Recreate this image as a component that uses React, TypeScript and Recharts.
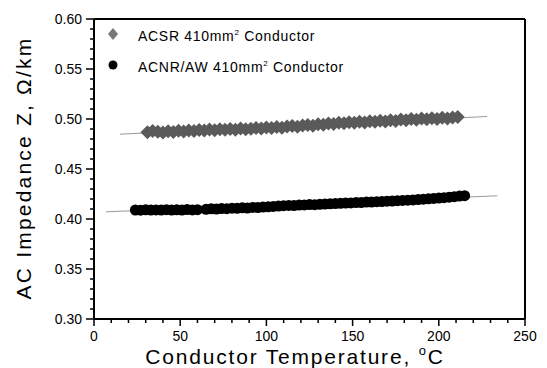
import React from "react"
import { ScatterChart, Scatter, XAxis, YAxis, ReferenceLine } from "recharts"

// ACSR 410mm2 conductor readings
const acsrTemp = [
  31, 34, 37, 40, 43, 46, 49, 52, 55, 58, 61, 64, 67, 70, 73, 76, 79, 82, 85, 88, 91, 94, 97, 100, 103,
  106, 109, 112, 115, 118, 121, 124, 127, 130, 133, 136, 139, 142, 145, 148, 151, 154, 157, 160, 163,
  166, 169, 172, 175, 178, 181, 184, 187, 190, 193, 196, 199, 202, 205, 208, 211,
]
const acsrZ = [
  0.4868, 0.488, 0.4872, 0.4865, 0.4878, 0.487, 0.4883, 0.4876, 0.4885, 0.4879, 0.489, 0.4884, 0.4895,
  0.4888, 0.4898, 0.4893, 0.49, 0.4893, 0.4905, 0.4898, 0.4902, 0.491, 0.4904, 0.4915, 0.4909, 0.492,
  0.4913, 0.4925, 0.493, 0.4922, 0.4935, 0.494, 0.4933, 0.4948, 0.4942, 0.4955, 0.495, 0.4962, 0.4958,
  0.4968, 0.4962, 0.4972, 0.4966, 0.4978, 0.4972, 0.4983, 0.4976, 0.4988, 0.4981, 0.4995, 0.4987, 0.5,
  0.4993, 0.5005, 0.4998, 0.5008, 0.5, 0.5012, 0.5004, 0.5015, 0.502,
]

// ACNR/AW 410mm2 conductor readings
const acnrTemp = [
  24, 27, 30, 33, 36, 39, 42, 45, 48, 51, 54, 57, 60, 65, 68, 71, 74, 77, 80, 83, 86, 89, 92, 95, 98,
  101, 104, 107, 110, 113, 116, 119, 122, 125, 128, 131, 134, 137, 140, 143, 146, 149, 152, 155, 158,
  161, 164, 167, 170, 173, 176, 179, 182, 185, 188, 191, 194, 197, 200, 203, 206, 209, 212, 215,
]
const acnrZ = [
  0.409, 0.4088, 0.4092, 0.4089, 0.4091, 0.409, 0.4093, 0.4089, 0.4092, 0.409, 0.4094, 0.4091, 0.4093,
  0.4097, 0.4102, 0.41, 0.4105, 0.4103, 0.4108, 0.4107, 0.4112, 0.411, 0.4116, 0.4114, 0.4119, 0.4122,
  0.4126, 0.4129, 0.4133, 0.4136, 0.4135, 0.4139, 0.4141, 0.4144, 0.4143, 0.4147, 0.4149, 0.4152,
  0.4154, 0.4157, 0.4159, 0.4161, 0.4164, 0.4165, 0.4169, 0.417, 0.4173, 0.4174, 0.4178, 0.418,
  0.4183, 0.4186, 0.4188, 0.4191, 0.4194, 0.4198, 0.4202, 0.4206, 0.421, 0.4213, 0.4218, 0.4223,
  0.4229, 0.4233,
]

// linear fit lines
const acsrFitTemp = [15, 228]
const acsrFitZ = [0.4848, 0.5025]
const acnrFitTemp = [7, 234]
const acnrFitZ = [0.4072, 0.4232]

const xTicks = [0, 50, 100, 150, 200, 250]
const yTicks = ["0.30", "0.35", "0.40", "0.45", "0.50", "0.55", "0.60"]
const xMinor = [10, 20, 30, 40, 60, 70, 80, 90, 110, 120, 130, 140, 160, 170, 180, 190, 210, 220, 230, 240]
const yMinor = [
  0.31, 0.32, 0.33, 0.34, 0.36, 0.37, 0.38, 0.39, 0.41, 0.42, 0.43, 0.44, 0.46, 0.47, 0.48, 0.49, 0.51,
  0.52, 0.53, 0.54, 0.56, 0.57, 0.58, 0.59,
]

const zip = (xs: number[], ys: number[]) => xs.map((x, i) => ({ t: x, z: ys[i] }))
const acsrData = zip(acsrTemp, acsrZ)
const acnrData = zip(acnrTemp, acnrZ)
const acsrFit = zip(acsrFitTemp, acsrFitZ)
const acnrFit = zip(acnrFitTemp, acnrFitZ)

const FONT = "'Liberation Sans', Arial, sans-serif"
const xAll = [...xTicks, ...xMinor].sort((a, b) => a - b)
const yAll = [...yTicks.map(Number), ...yMinor].sort((a, b) => a - b)

const XTick = (props: any) => {
  const { x, y, payload } = props
  const major = xTicks.includes(payload.value)
  return (
    <g>
      <line x1={x} x2={x} y1={y} y2={y + (major ? 7 : 4)} stroke="#000" strokeWidth={1.5} />
      {major && (
        <text x={x} y={y + 22} textAnchor="middle" fontSize={14} fontFamily={FONT} fill="#000">
          {payload.value}
        </text>
      )}
    </g>
  )
}

const YTick = (props: any) => {
  const { x, y, payload } = props
  const label = yTicks.find((s) => Math.abs(Number(s) - payload.value) < 1e-6)
  return (
    <g>
      <line x1={x - (label ? 8 : 4)} x2={x} y1={y} y2={y} stroke="#000" strokeWidth={1.5} />
      {label && (
        <text x={x - 12} y={y + 5} textAnchor="end" fontSize={14} fontFamily={FONT} fill="#000">
          {label}
        </text>
      )}
    </g>
  )
}

const Diamond = (props: any) => {
  const { cx, cy } = props
  return <polygon points={`${cx - 7},${cy} ${cx},${cy - 7} ${cx + 7},${cy} ${cx},${cy + 7}`} fill="#5a5a5a" />
}

const Dot = (props: any) => {
  const { cx, cy } = props
  return <circle cx={cx} cy={cy} r={5.5} fill="#000" />
}

const NoShape = () => <g />

const LegendBox = () => (
  <div
    style={{
      position: "absolute",
      left: 106,
      top: 19,
      fontFamily: FONT,
      fontSize: 14,
      letterSpacing: 0.7,
      color: "#000",
      lineHeight: "28px",
    }}
  >
    <div style={{ display: "flex", alignItems: "center" }}>
      <svg width={14} height={14} style={{ marginRight: 18 }}>
        <polygon points="7,1 12,7 7,13 2,7" fill="#777" />
      </svg>
      <span>
        ACSR 410mm<sup style={{ fontSize: 8 }}>2</sup> Conductor
      </span>
    </div>
    <div style={{ display: "flex", alignItems: "center" }}>
      <svg width={14} height={14} style={{ marginRight: 18 }}>
        <circle cx={7} cy={7} r={4.5} fill="#000" />
      </svg>
      <span>
        ACNR/AW 410mm<sup style={{ fontSize: 8 }}>2</sup> Conductor
      </span>
    </div>
  </div>
)

export default function App() {
  return (
    <div style={{ position: "absolute", left: 0, top: 0, width: 547, height: 368, background: "#fff" }}>
      <ScatterChart width={547} height={368} margin={{ top: 19, right: 22, bottom: 0, left: 0 }}>
        <XAxis
          type="number"
          dataKey="t"
          domain={[0, 250]}
          ticks={xAll}
          interval={0}
          allowDataOverflow
          height={49}
          tickSize={0}
          tickMargin={0}
          tick={<XTick />}
          axisLine={{ stroke: "#000", strokeWidth: 2 }}
          label={() => (
            <text
              x={295}
              y={364}
              textAnchor="middle"
              fontSize={21}
              fontFamily={FONT}
              letterSpacing={1.8}
              fill="#000"
            >
              Conductor Temperature,{" "}
              <tspan fontSize={13} dy={-9}>
                o
              </tspan>
              <tspan dy={9}>C</tspan>
            </text>
          )}
        />
        <YAxis
          type="number"
          dataKey="z"
          domain={[0.3, 0.6]}
          ticks={yAll}
          interval={0}
          allowDataOverflow
          width={94}
          tickSize={0}
          tickMargin={0}
          tick={<YTick />}
          axisLine={{ stroke: "#000", strokeWidth: 2 }}
          label={() => (
            <text
              x={31}
              y={168}
              transform="rotate(-90 31 168)"
              textAnchor="middle"
              fontSize={21}
              fontFamily={FONT}
              letterSpacing={2.2}
              fill="#000"
            >
              AC Impedance Z, Ω/km
            </text>
          )}
        />
        <ReferenceLine y={0.6} stroke="#000" strokeWidth={2} />
        <ReferenceLine x={250} stroke="#000" strokeWidth={2} />
        <Scatter data={acsrFit} line={{ stroke: "#999", strokeWidth: 1 }} shape={<NoShape />} isAnimationActive={false} />
        <Scatter data={acnrFit} line={{ stroke: "#999", strokeWidth: 1 }} shape={<NoShape />} isAnimationActive={false} />
        <Scatter data={acsrData} shape={<Diamond />} isAnimationActive={false} />
        <Scatter data={acnrData} shape={<Dot />} isAnimationActive={false} />
      </ScatterChart>
      <LegendBox />
    </div>
  )
}
